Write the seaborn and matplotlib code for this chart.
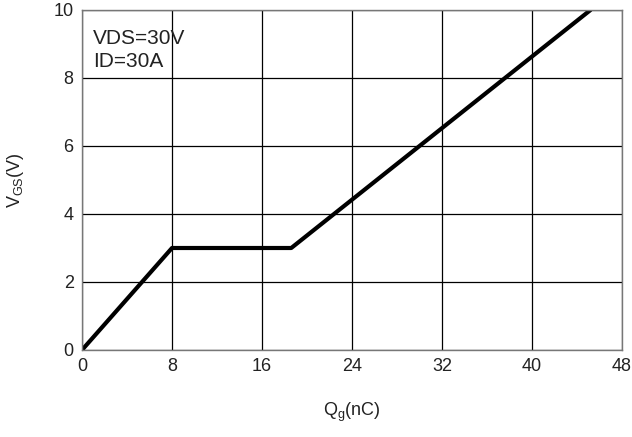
import matplotlib
matplotlib.use("Agg")
import matplotlib.pyplot as plt
import seaborn as sns
import pandas as pd

qg = [0, 8, 18.6, 45.2]
vgs = [0, 3.0, 3.0, 10.0]
xticks = [0, 8, 16, 24, 32, 40, 48]
yticks = [0, 2, 4, 6, 8, 10]

sns.set_theme(style="white")
plt.rcParams['font.family'] = ['Liberation Sans', 'DejaVu Sans']
plt.rcParams['mathtext.fontset'] = 'custom'
plt.rcParams['mathtext.rm'] = 'Liberation Sans'

fig = plt.figure(figsize=(6.32, 4.37), dpi=100)
ax = fig.add_axes([82/632, 1 - 350/437, 540/632, 340/437])

df = pd.DataFrame({"Qg": qg, "VGS": vgs})
sns.lineplot(data=df, x="Qg", y="VGS", ax=ax, color="black", linewidth=3, sort=False)

ax.set_xlim(0, 48)
ax.set_ylim(0, 10)
ax.set_xticks(xticks)
ax.set_yticks(yticks)
ax.set_xticklabels([str(t) for t in xticks], fontsize=13, color="#222222")
ax.set_yticklabels([str(t) for t in yticks], fontsize=13, color="#222222")
ax.tick_params(length=0, pad=6)
ax.grid(True, color="black", linewidth=0.9)
for s in ax.spines.values():
    s.set_color("#777777")
    s.set_linewidth(1)
    s.set_visible(True)

ax.set_xlabel(r"Q$_{\mathregular{g}}$(nC)", fontsize=13, labelpad=18, color="#222222")
ax.set_ylabel(r"V$_{\mathregular{GS}}$(V)", fontsize=13, labelpad=20, color="#222222")

ax.text(0.02, 0.945, "VDS=30V\nID=30A", transform=ax.transAxes, fontsize=15,
        va="top", ha="left", color="#222222", linespacing=1.3)

fig.savefig("out.png", dpi=100)
